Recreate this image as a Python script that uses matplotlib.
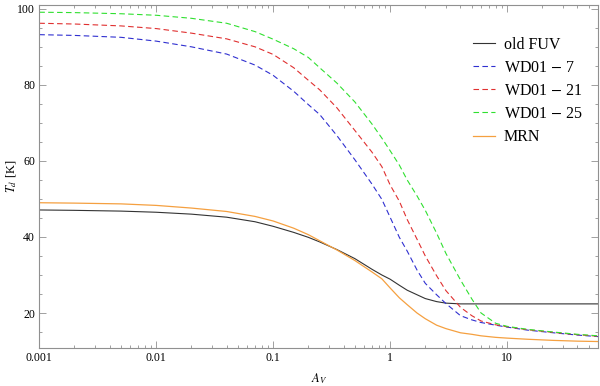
import matplotlib
matplotlib.use("Agg")
from matplotlib import pyplot as plt
from matplotlib import ticker

plt.rcParams['font.family'] = ['Liberation Serif', 'DejaVu Serif']
plt.rcParams['mathtext.fontset'] = 'stix'

# extinction grid A_V
av = [0.001, 0.002, 0.005, 0.01, 0.02, 0.04, 0.07, 0.1, 0.15, 0.2, 0.25,
      0.35, 0.5, 0.7, 0.85, 1.0, 1.2, 1.4, 1.7, 2.0, 2.5, 3.0, 4.0, 5.0,
      6.0, 8.0, 10.0, 15.0, 25.0, 40.0, 60.0]

# dust temperatures T_d [K]
old_fuv = [47.1, 47.0, 46.8, 46.5, 46.0, 45.2, 44.0, 42.8, 41.2, 39.9, 38.7,
           36.7, 34.3, 31.5, 30.0, 28.9, 27.3, 26.0, 24.8, 23.8, 23.0, 22.6,
           22.4, 22.4, 22.4, 22.4, 22.4, 22.4, 22.4, 22.4, 22.4]
wd01_7 = [93.2, 93.0, 92.5, 91.5, 90.0, 88.1, 85.2, 82.5, 78.3, 74.8, 72.2,
          66.7, 60.3, 53.9, 49.9, 45.2, 39.9, 36.3, 31.3, 27.8, 24.8, 22.5,
          19.3, 18.2, 17.5, 16.8, 16.3, 15.5, 14.8, 14.2, 13.8]
wd01_21 = [96.2, 96.0, 95.5, 94.8, 93.6, 92.1, 90.0, 88.0, 84.5, 81.2, 78.7,
           74.0, 68.0, 62.3, 58.5, 53.7, 49.4, 44.6, 39.4, 35.0, 29.8, 25.9,
           21.5, 19.3, 17.9, 16.9, 16.4, 15.6, 14.9, 14.3, 13.9]
wd01_25 = [99.1, 99.0, 98.7, 98.3, 97.5, 96.2, 94.0, 92.0, 89.5, 87.2, 84.5,
           80.5, 75.5, 69.7, 66.0, 62.7, 58.9, 55.0, 50.8, 47.0, 41.0, 35.7,
           28.7, 23.7, 20.0, 17.3, 16.5, 15.7, 15.0, 14.4, 14.0]
mrn = [49.0, 48.9, 48.7, 48.3, 47.6, 46.7, 45.4, 44.2, 42.3, 40.6, 39.0,
       36.6, 33.8, 30.8, 29.0, 26.6, 24.0, 22.2, 20.0, 18.5, 16.8, 15.9,
       14.8, 14.4, 14.0, 13.6, 13.4, 13.1, 12.8, 12.6, 12.5]

fig = plt.figure(figsize=(6.0, 3.86), dpi=100)
ax = fig.add_axes([39.3 / 600, 1 - 348 / 386, 558.7 / 600, 343 / 386])

dash = (0, (5, 3))
ax.plot(av, old_fuv, color='#333333', lw=0.8, label='old FUV')
ax.plot(av, wd01_7, color='#3030d0', lw=0.8, linestyle=dash, label=r'WD01 $-$ 7')
ax.plot(av, wd01_21, color='#e03030', lw=0.8, linestyle=dash, label=r'WD01 $-$ 21')
ax.plot(av, wd01_25, color='#30e030', lw=0.8, linestyle=dash, label=r'WD01 $-$ 25')
ax.plot(av, mrn, color='#f5a040', lw=0.9, label='MRN')

ax.set_xscale('log')
ax.set_xlim(0.001, 60)
ax.set_ylim(10.8, 101)

ax.xaxis.set_major_locator(ticker.LogLocator(base=10, numticks=10))
ax.xaxis.set_minor_locator(ticker.LogLocator(base=10, subs=range(2, 10), numticks=20))
ax.xaxis.set_major_formatter(ticker.FuncFormatter(lambda v, p: '%g' % v))
ax.xaxis.set_minor_formatter(ticker.NullFormatter())
ax.yaxis.set_major_locator(ticker.MultipleLocator(20))
ax.yaxis.set_minor_locator(ticker.MultipleLocator(5))

for s in ax.spines.values():
    s.set_color('#909090')
    s.set_linewidth(0.8)
ax.tick_params(which='both', direction='in', top=True, right=True,
               color='#909090', labelsize=8.5, width=0.6)
ax.tick_params(which='major', length=5, pad=3)
ax.tick_params(which='minor', length=2.5)

ax.set_xlabel(r'$A_V$', fontsize=9, va='center')
ax.set_ylabel(r'$T_d$ [K]', fontsize=9, va='center')
ax.xaxis.set_label_coords(0.5, -31 / 343)
ax.yaxis.set_label_coords(-28 / 558.7, 0.5)

ax.legend(loc='upper right', frameon=False, fontsize=11.5, handlelength=1.35,
          handletextpad=0.55, labelspacing=0.45, bbox_to_anchor=(0.998, 0.95))

fig.savefig('out.png', dpi=100)
